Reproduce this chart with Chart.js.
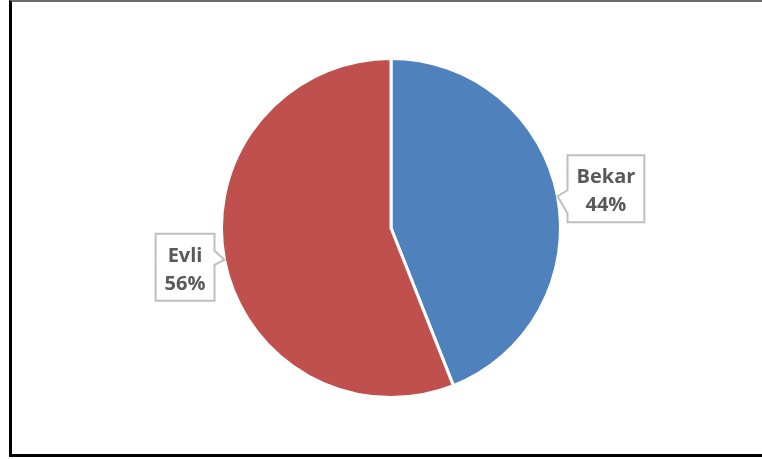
<!DOCTYPE html>
<html>
<head>
<meta charset="utf-8">
<script src="https://cdn.jsdelivr.net/npm/chart.js@4/dist/chart.umd.min.js"></script>
<style>
  html, body { margin: 0; padding: 0; background: #fff; }
  body { width: 762px; height: 459px; position: relative; overflow: hidden; }
  #frame {
    position: absolute; left: 9px; top: 0; width: 800px; height: 457px;
    border-top: 2px solid #6b6b6b;
    border-left: 3px solid #000;
    border-bottom: 3px solid #000;
    box-sizing: border-box;
  }
  #maritalChart { position: absolute; left: 0; top: 0; }
</style>
</head>
<body>
<div id="frame"></div>
<canvas id="maritalChart" width="762" height="459"></canvas>
<script>
const statusLabels = ["Bekar", "Evli"];
const statusShares = [44, 56];
const sliceColors = ["#4f81bd", "#c0504d"];

// where each callout box sits relative to the point it is attached to
const calloutStyle = {
  font: "bold 20px 'Open Sans', 'Liberation Sans', sans-serif",
  color: "#595959",
  border: "#bfbfbf",
  padX: 9,
  lineHeight: 28,
  height: 67,
  gap: 10,
  // box top, pointer base start/end, measured from the tip
  right: { top: -41, base1: -6, base2: 17 },
  left: { top: -26, base1: -9, base2: 5 },
};

const calloutPlugin = {
  id: "callouts",
  afterDatasetsDraw(chart) {
    const ctx = chart.ctx;
    const meta = chart.getDatasetMeta(0);
    const s = calloutStyle;
    ctx.save();
    ctx.font = s.font;
    meta.data.forEach((arc, i) => {
      const mid = (arc.startAngle + arc.endAngle) / 2;
      const tx = arc.x + Math.cos(mid) * arc.outerRadius;
      const ty = arc.y + Math.sin(mid) * arc.outerRadius;
      const lines = [statusLabels[i], statusShares[i] + "%"];
      const w = Math.max(...lines.map((t) => ctx.measureText(t).width)) + s.padX * 2;
      const onRight = Math.cos(mid) >= 0;
      const g = onRight ? s.right : s.left;
      const top = ty + g.top;
      const bottom = top + s.height;
      let edge, far;
      if (onRight) {
        edge = tx + s.gap;
        far = edge + w;
      } else {
        edge = tx - s.gap;
        far = edge - w;
      }

      ctx.beginPath();
      ctx.moveTo(edge, top);
      ctx.lineTo(far, top);
      ctx.lineTo(far, bottom);
      ctx.lineTo(edge, bottom);
      ctx.lineTo(edge, ty + g.base2);
      ctx.lineTo(tx, ty);
      ctx.lineTo(edge, ty + g.base1);
      ctx.closePath();
      ctx.fillStyle = "#fff";
      ctx.fill();
      ctx.lineWidth = 2;
      ctx.strokeStyle = s.border;
      ctx.stroke();

      ctx.fillStyle = s.color;
      ctx.textAlign = "center";
      ctx.textBaseline = "alphabetic";
      const cx = (edge + far) / 2;
      lines.forEach((t, k) => {
        ctx.fillText(t, cx, top + 28 + k * s.lineHeight);
      });
    });
    ctx.restore();
  },
};

new Chart(document.getElementById("maritalChart"), {
  type: "pie",
  data: {
    labels: statusLabels,
    datasets: [
      {
        data: statusShares,
        backgroundColor: sliceColors,
        borderColor: "#ffffff",
        borderWidth: 3,
      },
    ],
  },
  options: {
    responsive: false,
    animation: false,
    layout: { padding: { top: 57, bottom: 60, left: 20, right: 0 } },
    plugins: {
      legend: { display: false },
      tooltip: { enabled: false },
    },
  },
  plugins: [calloutPlugin],
});
</script>
</body>
</html>
